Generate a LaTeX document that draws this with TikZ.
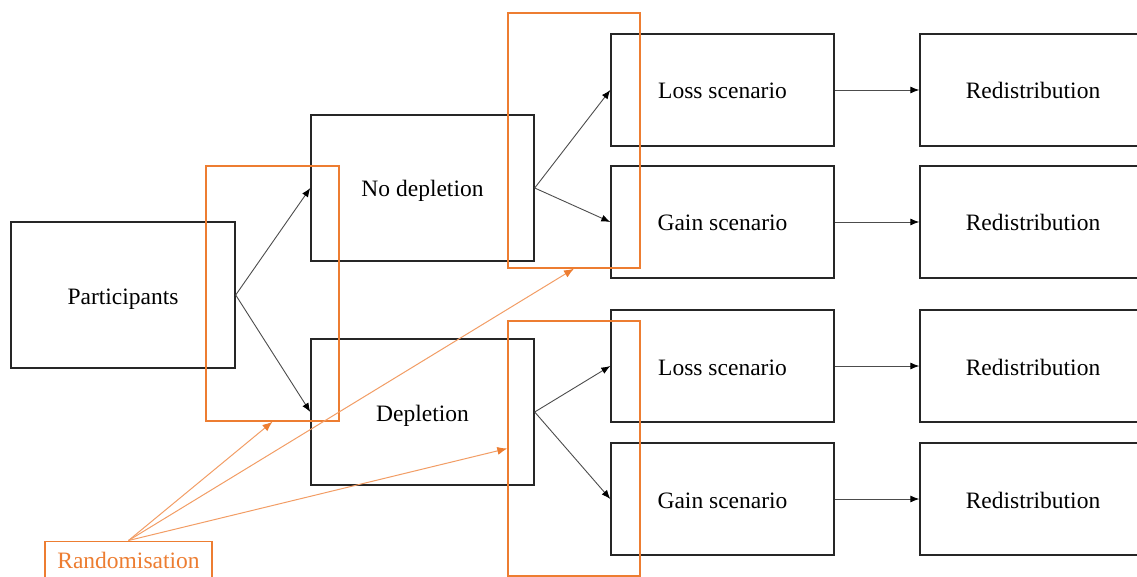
\documentclass[tikz,border=0pt]{standalone}
\usepackage{fontspec}
\setmainfont{Liberation Serif}
\usetikzlibrary{arrows.meta}
\definecolor{rorange}{HTML}{ED7D31}
\tikzset{
  blk/.style={draw=black!85, line width=1.4pt, fill=white, inner sep=0pt, text height=18pt, text depth=0pt, font=\fontsize{23.5}{28}\selectfont},
  orbox/.style={draw=rorange, line width=1.4pt, inner sep=0pt},
  arr/.style={draw=black!70, line width=0.9pt, -{Latex[length=9pt,width=7pt,fill=black,color=black]}},
  oarr/.style={draw=rorange!75, line width=1pt, -{Latex[length=10pt,width=8pt,color=rorange,fill=rorange]}},
}
\begin{document}
\begin{tikzpicture}[x=1pt,y=1pt]
\useasboundingbox (0,0) rectangle (1137,-577);
% main boxes
\node[blk, minimum width=224pt, minimum height=146pt] (part) at (123,-295) {Participants};
\node[blk, minimum width=223pt, minimum height=146pt] (nodep) at (422.5,-188) {No depletion};
\node[blk, minimum width=223pt, minimum height=146pt] (dep) at (422.5,-412) {Depletion};
\node[blk, minimum width=223pt, minimum height=112pt] (loss1) at (722.5,-90) {Loss scenario};
\node[blk, minimum width=223pt, minimum height=112pt] (gain1) at (722.5,-222) {Gain scenario};
\node[blk, minimum width=223pt, minimum height=112pt] (loss2) at (722.5,-366) {Loss scenario};
\node[blk, minimum width=223pt, minimum height=112pt] (gain2) at (722.5,-499) {Gain scenario};
\node[blk, minimum width=226pt, minimum height=112pt] (red1) at (1033,-90) {Redistribution};
\node[blk, minimum width=226pt, minimum height=112pt] (red2) at (1033,-222) {Redistribution};
\node[blk, minimum width=226pt, minimum height=112pt] (red3) at (1033,-366) {Redistribution};
\node[blk, minimum width=226pt, minimum height=112pt] (red4) at (1033,-499) {Redistribution};
% black arrows
\draw[arr] (part.east) -- (nodep.west);
\draw[arr] (part.east) -- (dep.west);
\draw[arr] (nodep.east) -- (loss1.west);
\draw[arr] (nodep.east) -- (gain1.west);
\draw[arr] (dep.east) -- (loss2.west);
\draw[arr] (dep.east) -- (gain2.west);
\draw[arr] (loss1.east) -- (red1.west);
\draw[arr] (gain1.east) -- (red2.west);
\draw[arr] (loss2.east) -- (red3.west);
\draw[arr] (gain2.east) -- (red4.west);
% orange randomisation frames
\node[orbox, minimum width=133pt, minimum height=255pt] (r1) at (272.5,-293.5) {};
\node[orbox, minimum width=132pt, minimum height=255pt] (r2) at (574,-140.5) {};
\node[orbox, minimum width=132pt, minimum height=255pt] (r3) at (574,-448.5) {};
\node[orbox, fill=white, text=rorange, font=\fontsize{23.5}{28}\selectfont, minimum width=167pt, minimum height=46pt, anchor=north] (rand) at (128.5,-540.5) {\raisebox{8pt}{Randomisation}};
% orange arrows
\draw[oarr] (rand.north) -- (r1.south);
\draw[oarr] (rand.north) -- (r2.south);
\draw[oarr] (rand.north) -- (r3.west);
\end{tikzpicture}
\end{document}
